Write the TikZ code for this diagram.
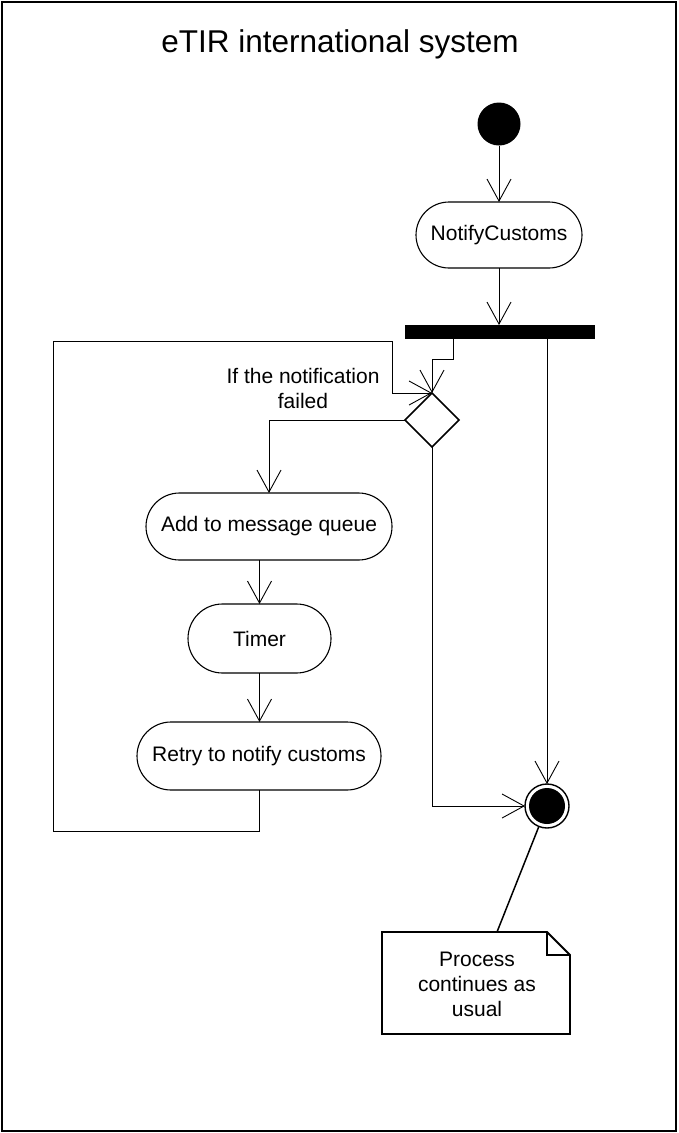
\documentclass[tikz,border=0pt]{standalone}
\usepackage{fontspec}
\setmainfont{Liberation Sans}
\usetikzlibrary{arrows.meta,shapes.geometric,shapes.misc}
\begin{document}
\begin{tikzpicture}[x=1pt,y=-1pt,
  every node/.style={inner sep=0pt,outer sep=0pt},
  lbl/.style={font=\fontsize{21}{25}\selectfont},
  action/.style={rounded rectangle,draw,line width=1.1pt,lbl},
  arr/.style={line width=0.9pt,-{Straight Barb[length=22pt,width=24pt,line width=0.9pt]}},
  conn/.style={line width=0.9pt}
]
\useasboundingbox (0,0) rectangle (678,1133);
\draw[line width=2pt] (2,2) rectangle (676,1131);
\node[anchor=base,font=\fontsize{31.5}{36}\selectfont] (title) at (340,52) {eTIR international system};

\node[circle,fill=black,minimum size=43pt] (start) at (499,124) {};
\node[action,minimum width=166pt,minimum height=66pt] (notify) at (499,235) {NotifyCustoms};
\node[rectangle,fill=black,minimum width=190pt,minimum height=14pt] (bar) at (500,332) {};
\node[diamond,draw,line width=1.7pt,minimum width=54pt,minimum height=54pt] (dia) at (432,420) {};
\node[action,minimum width=246pt,minimum height=67pt] (add) at (269,526.5) {Add to message queue};
\node[action,minimum width=143pt,minimum height=69pt] (timer) at (259.5,638.5) {Timer};
\node[action,minimum width=244pt,minimum height=68pt] (retry) at (259,756) {Retry to notify customs};
\node[circle,draw,line width=1.4pt,minimum size=44pt] (final) at (547,806) {};
\node[circle,fill=black,minimum size=36pt] (finalin) at (547,806) {};

\node[lbl,align=center] (cond) at (303,388.5) {If the notification\\failed};

% note
\draw[line width=1.8pt] (382,932) -- (547,932) -- (570,955) -- (570,1034) -- (382,1034) -- cycle;
\draw[line width=1.4pt] (547,932) -- (547,955) -- (570,955);
\node[lbl,align=center] (note) at (477,984.5) {Process\\continues as\\usual};
\coordinate (notetop) at (497,932);

% connectors
\draw[arr] (start) -- (notify);
\draw[arr] (notify.south) -- (notify.south |- bar.north);
\draw[arr] ([xshift=48pt]bar.south west) -- ++(0,20) -| (dia.north);
\draw[arr] (final.north |- bar.south) -- (final.north);
\draw[arr] (dia.west) -| (add.north);
\draw[arr] (dia.south) |- (final.west);
\draw[arr] (timer.north |- add.south) -- (timer.north);
\draw[arr] (timer.south) -- (retry.north -| timer.south);
\coordinate (loopL) at (53,341);
\coordinate (loopR) at (392,393);
\draw[arr] (retry.south) -- ++(0,41) -| (loopL) -| (loopR) -- (dia.north);
\draw[line width=1.5pt] (final) -- (notetop);
\end{tikzpicture}
\end{document}
